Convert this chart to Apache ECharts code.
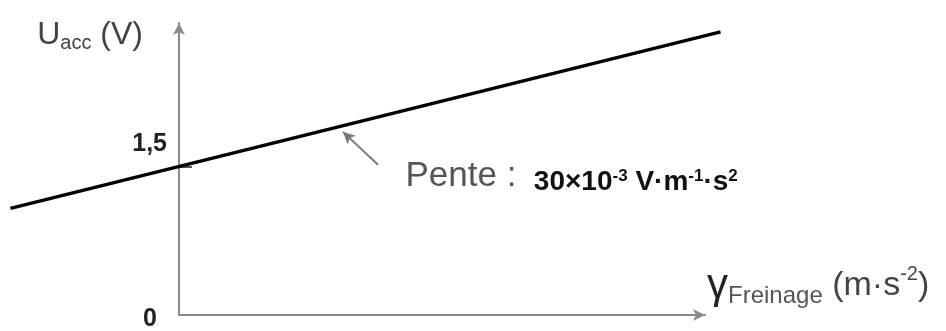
<!DOCTYPE html>
<html><head><meta charset="utf-8">
<script src="https://cdn.jsdelivr.net/npm/echarts@6/dist/echarts.min.js"></script>
<style>html,body{margin:0;padding:0;background:#fff}#c{width:946px;height:331px}</style>
</head><body><div id="c"></div>
<script>
// ---- data ----
const lineGamma = [-14.1, 45.3];      // γ freinage (m·s-2) at both ends of the drawn line
const lineU = [1.077, 2.86];          // U_acc (V) at both ends
const xRange = [0, 44];               // visible axis range (origin to arrow)
const yRange = [0, 2.95];
const yTickValues = [0, 1.5];
const yTickLabels = ['0', '1,5'];
const slopeArrowFrom = [16.65, 1.517];
const slopeArrowTo = [13.72, 1.85];
const slopeLabelAt = [18.9, 1.40];

const FONT = '"Liberation Sans", Arial, Helvetica, sans-serif';
const chart = echarts.init(document.getElementById('c'), null, {renderer: 'canvas'});

// layout (pixels)
const W = 946;
const axLeft = 179, axRight = 705, axTop = 23, axBottom = 315;
const pxPerUnit = (axRight - axLeft) / (xRange[1] - xRange[0]);
// wider hidden grid holding the line so it can run past the axes
const lineXMin = -14.4, lineXMax = 45.6;
const wideLeft = axLeft + (lineXMin - xRange[0]) * pxPerUnit;
const wideRight = axLeft + (lineXMax - xRange[0]) * pxPerUnit;

const seriesData = lineGamma.map((g, i) => [g, lineU[i]]);

const hiddenAxis = {show: false};

const option = {
  animation: false,
  backgroundColor: '#ffffff',
  grid: [
    {left: axLeft, right: W - axRight, top: axTop, bottom: 331 - axBottom, containLabel: false, outerBoundsMode: 'none'},
    {left: wideLeft, right: W - wideRight, top: axTop, bottom: 331 - axBottom, containLabel: false, outerBoundsMode: 'none'}
  ],
  xAxis: [{
    gridIndex: 0, type: 'value', min: xRange[0], max: xRange[1],
    axisLine: {show: true, onZero: false, symbol: ['none', 'arrow'], symbolSize: [9, 12],
      lineStyle: {color: '#8a8a8a', width: 2}},
    axisTick: {show: false}, axisLabel: {show: false}, splitLine: {show: false},
    name: '{g|γ}{s|Freinage}{m| (m·s}{p|-2}{m|)}',
    nameLocation: 'end', nameGap: 2,
    nameTextStyle: {
      align: 'left', verticalAlign: 'bottom', padding: [0, 0, 7, 0],
      rich: {
        g: {fontFamily: FONT, fontSize: 42, lineHeight: 44, color: '#222'},
        s: {fontFamily: FONT, fontSize: 24, lineHeight: 26, verticalAlign: 'bottom', color: '#555'},
        m: {fontFamily: FONT, fontSize: 34, lineHeight: 36, color: '#444'},
        p: {fontFamily: FONT, fontSize: 20, lineHeight: 36, verticalAlign: 'top', color: '#444'}
      }
    }
  }, {
    gridIndex: 1, type: 'value', min: lineXMin, max: lineXMax,
    axisLine: hiddenAxis, axisTick: hiddenAxis, axisLabel: hiddenAxis, splitLine: hiddenAxis
  }],
  yAxis: [{
    gridIndex: 0, type: 'value', min: yRange[0], max: yRange[1],
    axisLine: {show: true, onZero: false, symbol: ['none', 'arrow'], symbolSize: [9, 12],
      lineStyle: {color: '#8a8a8a', width: 2}},
    axisTick: {show: true, inside: true, length: 13, customValues: [yTickValues[1]],
      lineStyle: {color: '#555', width: 2}},
    axisLabel: {
      show: true, margin: 12, customValues: yTickValues,
      formatter: function (v) {
        const i = yTickValues.indexOf(v);
        const t = i >= 0 ? yTickLabels[i] : '';
        return v === 0 ? '{z|' + t + '}' : '{o|' + t + '}';
      },
      rich: {
        o: {fontFamily: FONT, fontSize: 25, fontWeight: 'bold', color: '#222', padding: [0, 0, 44, 0]},
        z: {fontFamily: FONT, fontSize: 25, fontWeight: 'bold', color: '#222', padding: [8, 10, 0, 0]}
      }
    },
    splitLine: {show: false},
    name: '{u|U}{s|acc}{u| (V)}',
    nameLocation: 'end', nameGap: -12,
    nameTextStyle: {
      align: 'right', verticalAlign: 'middle', padding: [0, 36, 0, 0],
      rich: {
        u: {fontFamily: FONT, fontSize: 32, lineHeight: 36, color: '#444'},
        s: {fontFamily: FONT, fontSize: 20, lineHeight: 28, verticalAlign: 'bottom', color: '#444'}
      }
    }
  }, {
    gridIndex: 1, type: 'value', min: yRange[0], max: yRange[1],
    axisLine: hiddenAxis, axisTick: hiddenAxis, axisLabel: hiddenAxis, splitLine: hiddenAxis
  }],
  series: [{
    type: 'line',
    xAxisIndex: 1, yAxisIndex: 1,
    data: seriesData,
    showSymbol: false,
    symbol: 'none',
    silent: true,
    lineStyle: {color: '#000', width: 3.5},
    markLine: {
      silent: true,
      symbol: ['none', 'arrow'],
      symbolSize: [9, 12],
      label: {show: false},
      lineStyle: {color: '#7a7a7a', width: 2, type: 'solid'},
      data: [[{coord: slopeArrowFrom}, {coord: slopeArrowTo}]]
    },
    markPoint: {
      silent: true,
      symbol: 'circle', symbolSize: 1,
      itemStyle: {color: 'rgba(0,0,0,0)'},
      label: {
        show: true, position: 'right', distance: 0,
        formatter: '{p|Pente : }{b| 30×10}{sup|-3}{b| V·m}{sup|-1}{b|·s}{sup|2}',
        rich: {
          p: {fontFamily: FONT, fontSize: 35, lineHeight: 40, color: '#555'},
          b: {fontFamily: FONT, fontSize: 28, fontWeight: 'bold', lineHeight: 28, verticalAlign: 'bottom', color: '#111'},
          sup: {fontFamily: FONT, fontSize: 17, fontWeight: 'bold', lineHeight: 17, color: '#111'}
        }
      },
      data: [{coord: slopeLabelAt}]
    }
  }]
};
chart.setOption(option);
</script>
</body></html>
